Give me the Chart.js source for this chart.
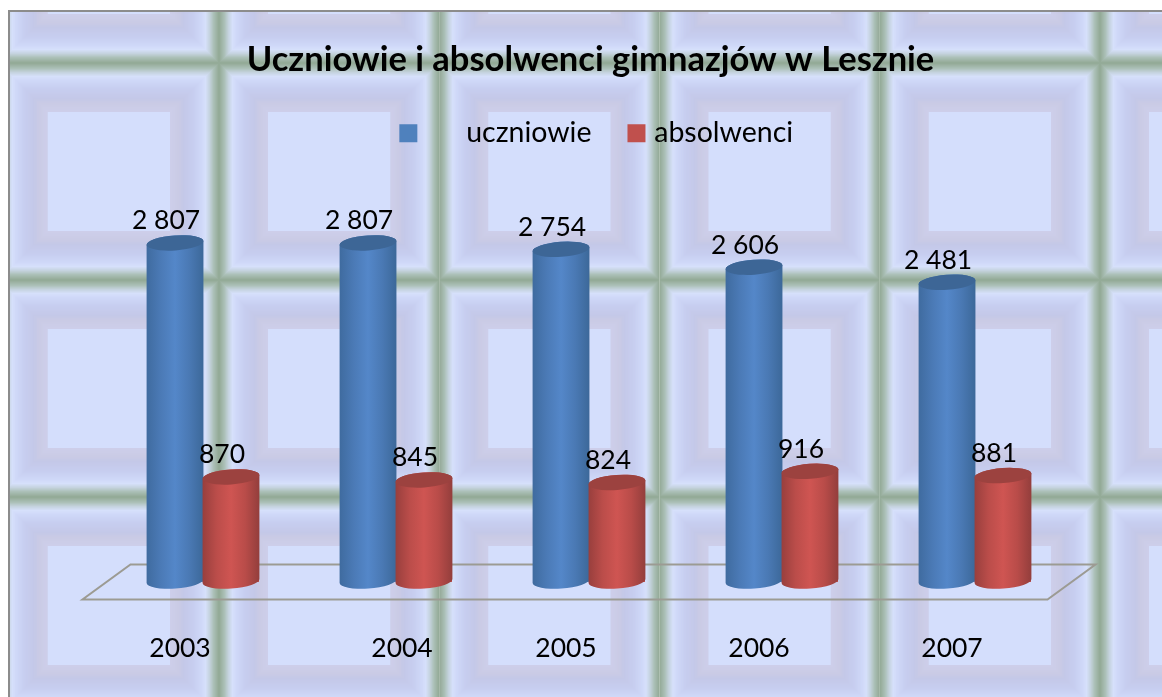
<!DOCTYPE html>
<html>
<head>
<meta charset="utf-8">
<style>
  html, body { margin: 0; background: #fff; overflow: hidden; }
  #chart { position: absolute; left: 8px; top: 10px; filter: blur(0.45px); }
</style>
<script src="https://cdn.jsdelivr.net/npm/chart.js@4"></script>
</head>
<body>
<canvas id="chart" width="1154" height="687"></canvas>
<script>
const years = ['2003', '2004', '2005', '2006', '2007'];
const uczniowie = [2807, 2807, 2754, 2606, 2481];
const absolwenci = [870, 845, 824, 916, 881];

const FONT = 'Lato, Carlito, sans-serif';

// colour of the tile relief by distance from the seam
const tileBands = [
  [0, [148, 171, 152]], [5, [172, 192, 184]], [9, [197, 211, 223]], [13, [214, 224, 251]],
  [17, [207, 216, 248]], [25, [199, 206, 240]], [35, [196, 200, 232]], [40, [202, 203, 229]],
  [48, [205, 206, 234]], [49, [212, 222, 252]]
];

function bandColor(d) {
  for (let i = 1; i < tileBands.length; i++) {
    const [d0, c0] = tileBands[i - 1];
    const [d1, c1] = tileBands[i];
    if (d <= d1) {
      const t = (d - d0) / (d1 - d0);
      return `rgb(${c0.map((v, k) => Math.round(v + (c1[k] - v) * t)).join(',')})`;
    }
  }
  return 'rgb(212,222,252)';
}

const tileBackground = {
  id: 'tileBackground',
  beforeDraw(chart) {
    const { ctx, width, height } = chart;
    const tileW = 220.25, tileH = 217;
    ctx.save();
    for (let col = 0; col < 6; col++) {
      for (let row = 0; row < 4; row++) {
        const x = -9.25 + col * tileW, y = -164 + row * tileH;
        for (let d = 0; d <= 49; d++) {
          ctx.fillStyle = bandColor(d);
          ctx.fillRect(x + d, y + d, tileW - 2 * d, tileH - 2 * d);
        }
      }
    }
    // frame, only left and top fall inside the picture
    ctx.fillStyle = '#8c8c8c';
    ctx.fillRect(0, 0, 2, height);
    ctx.fillRect(0, 0, width, 2);
    ctx.restore();
  }
};

// the grey floor under the columns
const floorPlane = {
  id: 'floorPlane',
  beforeDatasetsDraw(chart) {
    const { ctx, chartArea } = chart;
    const y0 = chart.scales.y.getPixelForValue(0);
    const dx = 24, dy = 17.5;
    ctx.save();
    ctx.strokeStyle = '#9c9b93';
    ctx.lineWidth = 2;
    ctx.beginPath();
    ctx.moveTo(chartArea.left - dx, y0 + dy);
    ctx.lineTo(chartArea.right - dx, y0 + dy);
    ctx.lineTo(chartArea.right + dx, y0 - dy);
    ctx.lineTo(chartArea.left + dx, y0 - dy);
    ctx.closePath();
    ctx.stroke();
    ctx.restore();
  }
};

const cylinderStyles = [
  { side: ['#3f6b9f', '#4b7ab6', '#5487c9', '#4a79b4', '#3c6899'], cap: '#3d6696' },
  { side: ['#983f3d', '#bb4d4a', '#cf5552', '#b94c49', '#933e3c'], cap: '#9c423f' }
];

// paints the bar elements as cylinders, then value and year labels on top
const cylinders = {
  id: 'cylinders',
  afterDatasetsDraw(chart) {
    const { ctx } = chart;
    const tilt = -0.07, capH = 7.5;
    chart.data.datasets.forEach((ds, di) => {
      const style = cylinderStyles[di];
      chart.getDatasetMeta(di).data.forEach(bar => {
        const hw = bar.width / 2 + 0.5;
        const grad = ctx.createLinearGradient(bar.x - hw, 0, bar.x + hw, 0);
        style.side.forEach((c, i) => grad.addColorStop(i / (style.side.length - 1), c));
        ctx.save();
        ctx.fillStyle = grad;
        ctx.beginPath();
        ctx.ellipse(bar.x, bar.base - 1, hw, capH, tilt, Math.PI, 0, true);
        ctx.ellipse(bar.x, bar.y, hw, capH, tilt, 0, Math.PI, true);
        ctx.closePath();
        ctx.fill();
        ctx.fillStyle = style.cap;
        ctx.beginPath();
        ctx.ellipse(bar.x, bar.y, hw, capH, tilt, 0, Math.PI * 2);
        ctx.fill();
        ctx.restore();
      });
    });

    // value labels and year labels sit off-centre in the original
    ctx.save();
    ctx.font = '26.5px ' + FONT;
    ctx.fillStyle = '#000';
    ctx.textAlign = 'center';
    ctx.textBaseline = 'middle';
    chart.data.datasets.forEach((ds, di) => {
      chart.getDatasetMeta(di).data.forEach((bar, i) => {
        const txt = String(ds.data[i]).replace(/\B(?=(\d{3})+$)/g, ' ');
        ctx.fillText(txt, bar.x - 9, bar.y - 22);
      });
    });
    const xScale = chart.scales.x;
    years.forEach((y, i) => {
      const nudge = y === '2004' ? 6 : -23;
      ctx.fillText(y, xScale.getPixelForValue(i) + nudge, 638);
    });
    ctx.restore();
  }
};

// title and legend are not quite centred over the plot
const nudgeBoxes = {
  id: 'nudgeBoxes',
  afterLayout(chart) {
    chart.legend.left += 10;
    chart.legend.right += 10;
    chart.legend.top -= 3;
    chart.titleBlock.left += 1.5;
    chart.titleBlock.right += 1.5;
  }
};

new Chart(document.getElementById('chart'), {
  type: 'bar',
  data: {
    labels: years,
    datasets: [
      { label: '     \u2009uczniowie', data: uczniowie, backgroundColor: '#4F81BD' },
      { label: 'absolwenci', data: absolwenci, backgroundColor: '#C0504D' }
    ]
  },
  options: {
    responsive: false,
    animation: false,
    layout: { padding: { left: 98.5, right: 90.5, top: 0, bottom: 115 } },
    categoryPercentage: 0.58,
    barPercentage: 1,
    scales: {
      x: { display: false },
      y: { display: false, min: 0, max: 3490 }
    },
    plugins: {
      title: {
        display: true,
        text: 'Uczniowie i absolwenci gimnazjów w Lesznie',
        color: '#000',
        font: { family: FONT, size: 34.5, weight: 'bold' },
        padding: { top: 29, bottom: 0 }
      },
      legend: {
        display: true,
        labels: {
          color: '#000',
          font: { family: FONT, size: 28.5 },
          padding: 41.5,
          boxWidth: 7,
          boxHeight: 7,
          generateLabels(chart) {
            return chart.data.datasets.map((ds, i) => ({
              text: ds.label,
              fillStyle: ds.backgroundColor,
              strokeStyle: ds.backgroundColor,
              lineWidth: 11,
              fontColor: '#000',
              datasetIndex: i
            }));
          }
        }
      },
      tooltip: { enabled: false }
    }
  },
  plugins: [tileBackground, floorPlane, cylinders, nudgeBoxes]
});
</script>
</body>
</html>
